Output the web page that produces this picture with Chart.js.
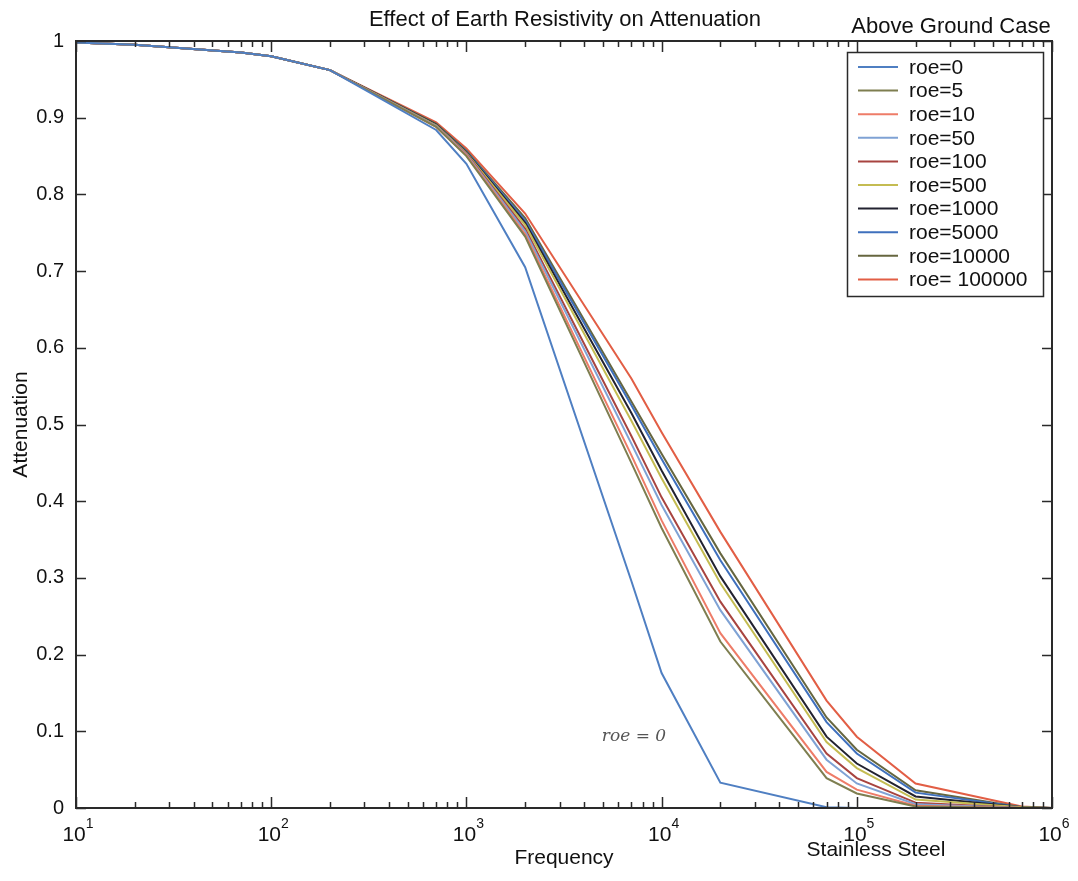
<!DOCTYPE html>
<html>
<head>
<meta charset="utf-8">
<script src="https://cdn.jsdelivr.net/npm/chart.js@4/dist/chart.umd.min.js"></script>
<style>
  html, body { margin: 0; padding: 0; background: #fff; }
  #wrap { position: relative; width: 1078px; height: 881px; }
</style>
</head>
<body>
<div id="wrap"><canvas id="chart" width="1078" height="881"></canvas></div>
<script>
(function () {
  'use strict';

  // frequencies (Hz) where the curves were computed
  var freq = [10, 20, 70, 100, 200, 700, 1000, 2000, 7000, 10000, 20000, 70000, 100000, 200000, 700000, 1000000];

  var roe0      = [0.998, 0.995, 0.985, 0.980, 0.962, 0.884, 0.840, 0.705, 0.296, 0.176, 0.033, 0.001, 0, 0, 0, 0];
  var roe5      = [0.998, 0.995, 0.985, 0.980, 0.962, 0.888, 0.850, 0.745, 0.450, 0.365, 0.217, 0.039, 0.019, 0.002, 0, 0];
  var roe10     = [0.998, 0.995, 0.985, 0.980, 0.962, 0.888, 0.851, 0.748, 0.460, 0.375, 0.228, 0.047, 0.024, 0.003, 0, 0];
  var roe50     = [0.998, 0.995, 0.985, 0.980, 0.962, 0.889, 0.852, 0.752, 0.475, 0.395, 0.258, 0.063, 0.032, 0.005, 0, 0];
  var roe100    = [0.998, 0.995, 0.985, 0.980, 0.962, 0.889, 0.853, 0.755, 0.485, 0.405, 0.269, 0.071, 0.039, 0.007, 0, 0];
  var roe500    = [0.998, 0.995, 0.985, 0.980, 0.962, 0.890, 0.854, 0.760, 0.505, 0.430, 0.293, 0.086, 0.052, 0.011, 0.001, 0];
  var roe1000   = [0.998, 0.995, 0.985, 0.980, 0.962, 0.891, 0.855, 0.763, 0.515, 0.440, 0.302, 0.093, 0.058, 0.015, 0.001, 0];
  var roe5000   = [0.998, 0.995, 0.985, 0.980, 0.962, 0.891, 0.856, 0.766, 0.525, 0.455, 0.323, 0.112, 0.071, 0.020, 0.001, 0];
  var roe10000  = [0.998, 0.995, 0.985, 0.980, 0.962, 0.892, 0.857, 0.769, 0.530, 0.462, 0.332, 0.118, 0.076, 0.023, 0.001, 0];
  var roe100000 = [0.998, 0.995, 0.985, 0.980, 0.962, 0.894, 0.860, 0.775, 0.560, 0.490, 0.360, 0.140, 0.093, 0.032, 0.002, 0];

  var seriesLabels = ['roe=0', 'roe=5', 'roe=10', 'roe=50', 'roe=100', 'roe=500', 'roe=1000', 'roe=5000', 'roe=10000', 'roe= 100000'];
  var seriesData = [roe0, roe5, roe10, roe50, roe100, roe500, roe1000, roe5000, roe10000, roe100000];
  var colors = ['#4f7fc2', '#7e7e50', '#ee7c68', '#7fa2d4', '#a84440', '#c4bc52', '#222230', '#3f70bd', '#66663f', '#e25e45'];

  var yTicks = [0, 0.1, 0.2, 0.3, 0.4, 0.5, 0.6, 0.7, 0.8, 0.9, 1];
  var decades = [1, 2, 3, 4, 5, 6];

  var FONT = '"Liberation Sans", Arial, Helvetica, sans-serif';
  var INK = '#111';

  var datasets = seriesData.map(function (d, i) {
    return {
      label: seriesLabels[i],
      data: freq.map(function (f, j) { return { x: f, y: d[j] }; }),
      borderColor: colors[i],
      backgroundColor: colors[i],
      borderWidth: 2,
      pointRadius: 0,
      tension: 0,
      fill: false
    };
  });

  // matlab-like box: inward ticks, decade labels, legend, extra notes
  var matlabBox = {
    id: 'matlabBox',
    afterDraw: function (chart) {
      var ctx = chart.ctx, a = chart.chartArea;
      var xs = chart.scales.x, ys = chart.scales.y;
      ctx.save();
      ctx.strokeStyle = '#2a2a2a';
      ctx.lineWidth = 2;
      ctx.strokeRect(a.left, a.top, a.right - a.left, a.bottom - a.top);

      ctx.lineWidth = 1.5;
      ctx.beginPath();
      yTicks.forEach(function (v) {
        var y = Math.round(ys.getPixelForValue(v)) + 0.5;
        ctx.moveTo(a.left, y); ctx.lineTo(a.left + 10, y);
        ctx.moveTo(a.right, y); ctx.lineTo(a.right - 10, y);
      });
      decades.forEach(function (e) {
        for (var m = 1; m <= 9; m++) {
          var v = m * Math.pow(10, e);
          if (v > 1e6) break;
          var x = Math.round(xs.getPixelForValue(v)) + 0.5;
          var len = m === 1 ? 11 : 6;
          ctx.moveTo(x, a.bottom); ctx.lineTo(x, a.bottom - len);
          ctx.moveTo(x, a.top); ctx.lineTo(x, a.top + len);
        }
      });
      ctx.stroke();

      // decade labels 10^n
      ctx.fillStyle = INK;
      ctx.textBaseline = 'alphabetic';
      decades.forEach(function (e) {
        var x = xs.getPixelForValue(Math.pow(10, e));
        ctx.font = '21px ' + FONT;
        var w1 = ctx.measureText('10').width;
        ctx.font = '14px ' + FONT;
        var w2 = ctx.measureText(String(e)).width;
        var x0 = x - (w1 + w2) / 2 + 2;
        ctx.font = '21px ' + FONT;
        ctx.textAlign = 'left';
        ctx.fillText('10', x0, a.bottom + 33);
        ctx.font = '14px ' + FONT;
        ctx.fillText(String(e), x0 + w1, a.bottom + 20);
      });

      // title and side notes
      ctx.textAlign = 'center';
      ctx.font = '22px ' + FONT;
      ctx.fillText('Effect of Earth Resistivity on Attenuation', (a.left + a.right) / 2 + 1, 26);
      ctx.fillText('Above Ground Case', 951, 33);
      ctx.font = '21px ' + FONT;
      ctx.fillText('Stainless Steel', 876, 856);
      ctx.fillStyle = '#555';
      ctx.font = 'italic 17px "DejaVu Serif", serif';
      ctx.fillText('roe = 0', 634, 741);

      // legend
      var lx = 847, ly = 52, lw = 196, lh = 244, row = 23.6;
      ctx.fillStyle = '#fff';
      ctx.fillRect(lx, ly, lw, lh);
      ctx.strokeStyle = '#2a2a2a';
      ctx.lineWidth = 1.5;
      ctx.strokeRect(lx + 0.5, ly + 0.5, lw, lh);
      ctx.textAlign = 'left';
      ctx.textBaseline = 'middle';
      ctx.font = '21px ' + FONT;
      chart.data.datasets.forEach(function (ds, i) {
        var y = ly + 15 + i * row;
        ctx.strokeStyle = ds.borderColor;
        ctx.lineWidth = 2;
        ctx.beginPath();
        ctx.moveTo(lx + 11, y); ctx.lineTo(lx + 51, y);
        ctx.stroke();
        ctx.fillStyle = INK;
        ctx.fillText(ds.label, lx + 62, y + 1);
      });
      ctx.restore();
    }
  };

  new Chart(document.getElementById('chart'), {
    type: 'line',
    data: { datasets: datasets },
    options: {
      responsive: false,
      animation: false,
      layout: { padding: { top: 41, right: 26, left: 0, bottom: 0 } },
      plugins: { legend: { display: false }, title: { display: false }, tooltip: { enabled: false } },
      scales: {
        x: {
          type: 'logarithmic',
          min: 10,
          max: 1000000,
          grid: { display: false },
          border: { display: false },
          ticks: { display: false },
          title: { display: true, text: 'Frequency', color: INK, font: { family: FONT, size: 21 }, padding: { top: 0, bottom: 10 } },
          afterFit: function (s) { s.height = 73; }
        },
        y: {
          min: 0,
          max: 1,
          grid: { display: false, drawTicks: false },
          border: { display: false },
          ticks: {
            stepSize: 0.1,
            padding: 12,
            color: INK,
            font: { family: FONT, size: 20 },
            callback: function (v) { return Math.round(v * 10) / 10; }
          },
          title: { display: true, text: 'Attenuation', color: INK, font: { family: FONT, size: 21 }, padding: { top: 9, bottom: 0 } },
          afterFit: function (s) { s.width = 76; }
        }
      }
    },
    plugins: [matlabBox]
  });
})();
</script>
</body>
</html>
